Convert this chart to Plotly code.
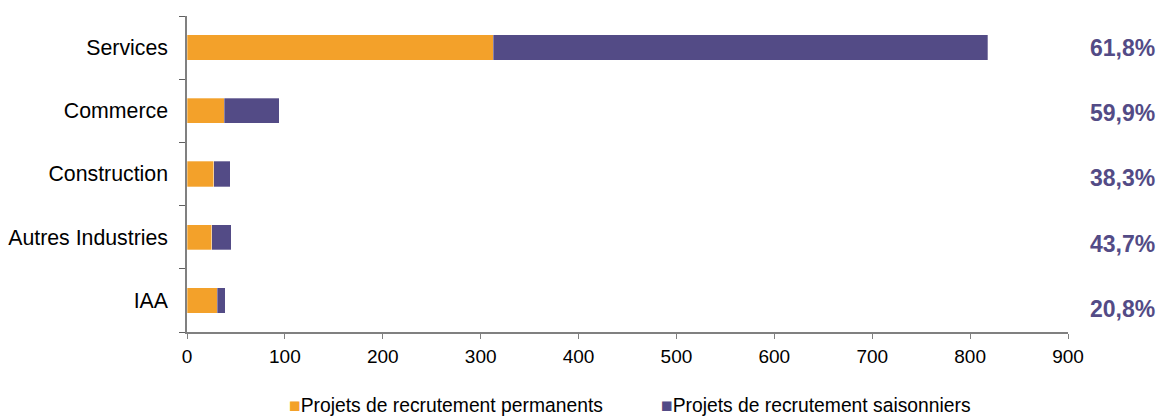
import plotly.graph_objects as go

categories = ["Services", "Commerce", "Construction", "Autres Industries", "IAA"]
permanents = [312.6, 37.8, 27.2, 25.5, 31.0]
saisonniers = [505.6, 56.5, 17.0, 19.9, 8.2]
part_saisonniers = ["61,8%", "59,9%", "38,3%", "43,7%", "20,8%"]
x_ticks = [0, 100, 200, 300, 400, 500, 600, 700, 800, 900]
series_names = ["Projets de recrutement permanents", "Projets de recrutement saisonniers"]

ORANGE = "#F3A12A"
PURPLE = "#534B86"
FONT = "Liberation Sans, Arial, sans-serif"

fig = go.Figure()
fig.add_trace(go.Bar(
    y=categories, x=permanents, orientation="h",
    name=series_names[0], showlegend=False,
    marker=dict(color=ORANGE, line=dict(color="rgba(255,255,255,0.6)", width=0.5)),
))
fig.add_trace(go.Bar(
    y=categories, x=saisonniers, orientation="h",
    name=series_names[1], showlegend=False,
    marker=dict(color=PURPLE, line=dict(color="rgba(255,255,255,0.6)", width=0.5)),
))

yshifts = [0, -2, -4, -7, -9]
for cat, lab, ys in zip(categories, part_saisonniers, yshifts):
    fig.add_annotation(
        x=1.101, xref="paper", y=cat, yref="y", yshift=ys,
        text=f"<b>{lab}</b>", showarrow=False, xanchor="right",
        font=dict(family=FONT, size=23, color=PURPLE),
    )

# legend built as text entries with coloured square glyphs
for name, color, xpos in zip(series_names, [ORANGE, PURPLE], [0.1135, 0.5355]):
    fig.add_annotation(
        x=xpos, xref="paper", y=-0.2326, yref="paper",
        text=f"<span style='color:{color}'>■</span>{name}",
        showarrow=False, xanchor="left", yanchor="middle",
        font=dict(family=FONT, size=19.3, color="black"),
    )

fig.update_layout(
    width=1160, height=417,
    margin=dict(l=187, r=92, t=16, b=85, autoexpand=False),
    barmode="stack", bargap=0.6,
    plot_bgcolor="white", paper_bgcolor="white",
    font=dict(family=FONT, size=19, color="black"),
    showlegend=False,
)
fig.update_xaxes(
    range=[0, 900], tickvals=x_ticks, ticktext=[str(v) for v in x_ticks],
    showgrid=False, zeroline=False, automargin=False,
    showline=True, linecolor="#808080", linewidth=1.5,
    ticks="outside", ticklen=5, tickcolor="#808080",
    tickfont=dict(family=FONT, size=19, color="black"),
    ticklabelstandoff=1,
)
fig.update_yaxes(
    categoryorder="array", categoryarray=categories[::-1],
    showgrid=False, zeroline=False, automargin=False,
    showline=True, linecolor="#808080", linewidth=1.5,
    ticks="outside", ticklen=6, tickcolor="#606060", tickson="boundaries",
    tickfont=dict(family=FONT, size=21.3, color="black"),
    ticklabelstandoff=13,
)

fig.write_html(
    "out.html",
    config={"displayModeBar": False},
    post_script="document.body.style.margin='0';document.body.style.overflow='hidden';",
)
